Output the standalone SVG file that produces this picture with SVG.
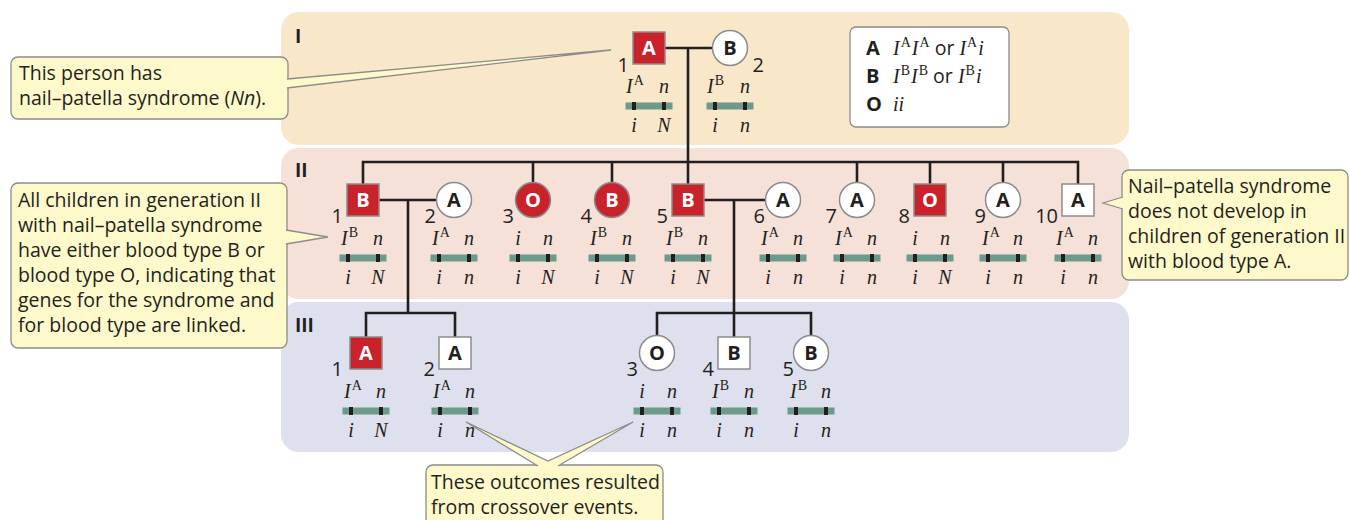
<svg xmlns="http://www.w3.org/2000/svg" width="1350" height="520" viewBox="0 0 1350 520">
<style>
.p1{fill:#f9e7ca}.p2{fill:#f6e1d9}.p3{fill:#dfe0ed}
.gen{font:bold 19px "Open Sans",sans-serif;fill:#231f20}
.ln{stroke:#231f20;stroke-width:2.6;fill:none}
.r{fill:#c9222a;stroke:#8c8c8c;stroke-width:1.5}
.w{fill:#fff;stroke:#8c8c8c;stroke-width:1.5}
.lw{font:bold 20px "Open Sans",sans-serif;fill:#fff;text-anchor:middle}
.lk{font:bold 20px "Open Sans",sans-serif;fill:#231f20;text-anchor:middle}
.num{font:20px "Open Sans",sans-serif;fill:#231f20;text-anchor:end}
.al{font:italic 20px "Liberation Serif",serif;fill:#231f20}
.m{text-anchor:middle}
.sup{font-style:normal;font-size:14px}
.bar{fill:#6c9a8b}.mk{fill:#231f20}
.co{fill:#fdf9cb;stroke:#8c8c8c;stroke-width:1.3}
.ct{font:19.5px "Open Sans",sans-serif;fill:#231f20}
.lg{fill:#fff;stroke:#8c8c8c;stroke-width:1.3}
.lb{font:bold 20px "Open Sans",sans-serif;fill:#231f20}
.it{font-family:"Liberation Serif",serif;font-style:italic;font-size:20px}
.sn{font-family:"Open Sans",sans-serif;font-style:normal;font-size:19.5px}
.ss{font-family:"Liberation Serif",serif;font-style:normal;font-size:14px}
</style>
<g id="panels">
<rect class="p1" x="281" y="12" width="848" height="133" rx="18"/>
<rect class="p2" x="281" y="148" width="848" height="151" rx="18"/>
<rect class="p3" x="281" y="302" width="848" height="150" rx="18"/>
<text class="gen" x="295" y="43">I</text>
<text class="gen" x="295" y="177">II</text>
<text class="gen" x="295" y="332">III</text>
</g>
<g id="connectors">
<path class="ln" d="M665,48 H712.5"/>
<path class="ln" d="M688,48 V184"/>
<path class="ln" d="M363,184 V162 H1078 V184"/>
<path class="ln" d="M533,162 V182.5 M612,162 V182.5 M857,162 V182.5 M930,162 V184 M1003,162 V182.5"/>
<path class="ln" d="M379,200 H436.5 M408,200 V313"/>
<path class="ln" d="M704,200 H765.5 M734,200 V337"/>
<path class="ln" d="M366,337 V313 H455 V337"/>
<path class="ln" d="M657,335.5 V313 H811 V335.5"/>
</g>
<g id="legend">
<rect class="lg" x="850" y="27" width="159" height="100" rx="6"/>
<text class="lb" x="866" y="55">A</text>
<text x="893" y="55" fill="#231f20"><tspan class="it">I</tspan><tspan class="ss" dx="1" dy="-8">A</tspan><tspan class="it" dx="1" dy="8">I</tspan><tspan class="ss" dx="1" dy="-8">A</tspan><tspan class="sn" dy="8"> or </tspan><tspan class="it">I</tspan><tspan class="ss" dx="1" dy="-8">A</tspan><tspan class="it" dx="1" dy="8">i</tspan></text>
<text class="lb" x="866" y="83">B</text>
<text x="893" y="83" fill="#231f20"><tspan class="it">I</tspan><tspan class="ss" dx="1" dy="-8">B</tspan><tspan class="it" dx="1" dy="8">I</tspan><tspan class="ss" dx="1" dy="-8">B</tspan><tspan class="sn" dy="8"> or </tspan><tspan class="it">I</tspan><tspan class="ss" dx="1" dy="-8">B</tspan><tspan class="it" dx="1" dy="8">i</tspan></text>
<text class="lb" x="866" y="111">O</text>
<text x="893" y="111" fill="#231f20"><tspan class="it">ii</tspan></text>
</g>
<!-- Generation I -->
<g id="I-1">
<rect class="r" x="633" y="32" width="32" height="32"/><text class="lw" x="649" y="55">A</text>
<text class="num" x="629" y="72">1</text>
<text class="al" x="626" y="93">I<tspan class="sup" dx="1" dy="-8">A</tspan></text><text class="al m" x="664" y="93">n</text>
<rect class="bar" x="625.5" y="102.5" width="47" height="7"/><rect class="mk" x="632" y="102" width="4" height="8"/><rect class="mk" x="662" y="102" width="4" height="8"/>
<text class="al m" x="634" y="132">i</text><text class="al m" x="664" y="132">N</text>
</g>
<g id="I-2">
<circle class="w" cx="730" cy="48" r="17.5"/><text class="lk" x="730" y="55">B</text>
<text class="num" x="764" y="72">2</text>
<text class="al" x="707" y="93">I<tspan class="sup" dx="1" dy="-8">B</tspan></text><text class="al m" x="745" y="93">n</text>
<rect class="bar" x="706.5" y="102.5" width="47" height="7"/><rect class="mk" x="713" y="102" width="4" height="8"/><rect class="mk" x="743" y="102" width="4" height="8"/>
<text class="al m" x="715" y="132">i</text><text class="al m" x="745" y="132">n</text>
</g>
<!-- Generation II -->
<g id="II-1">
<rect class="r" x="347" y="184" width="32" height="32"/><text class="lw" x="363" y="207">B</text>
<text class="num" x="343" y="223">1</text>
<text class="al" x="341" y="245">I<tspan class="sup" dx="1" dy="-8">B</tspan></text><text class="al m" x="378" y="245">n</text>
<rect class="bar" x="339.5" y="254.5" width="47" height="7"/><rect class="mk" x="346" y="254" width="4" height="8"/><rect class="mk" x="376" y="254" width="4" height="8"/>
<text class="al m" x="348" y="284">i</text><text class="al m" x="378" y="284">N</text>
</g>
<g id="II-2">
<circle class="w" cx="454" cy="200" r="17.5"/><text class="lk" x="454" y="207">A</text>
<text class="num" x="436" y="223">2</text>
<text class="al" x="432" y="245">I<tspan class="sup" dx="1" dy="-8">A</tspan></text><text class="al m" x="469" y="245">n</text>
<rect class="bar" x="430.5" y="254.5" width="47" height="7"/><rect class="mk" x="437" y="254" width="4" height="8"/><rect class="mk" x="467" y="254" width="4" height="8"/>
<text class="al m" x="439" y="284">i</text><text class="al m" x="469" y="284">n</text>
</g>
<g id="II-3">
<circle class="r" cx="533" cy="200" r="17.5"/><text class="lw" x="533" y="207">O</text>
<text class="num" x="514" y="223">3</text>
<text class="al m" x="518" y="245">i</text><text class="al m" x="548" y="245">n</text>
<rect class="bar" x="509.5" y="254.5" width="47" height="7"/><rect class="mk" x="516" y="254" width="4" height="8"/><rect class="mk" x="546" y="254" width="4" height="8"/>
<text class="al m" x="518" y="284">i</text><text class="al m" x="548" y="284">N</text>
</g>
<g id="II-4">
<circle class="r" cx="612" cy="200" r="17.5"/><text class="lw" x="612" y="207">B</text>
<text class="num" x="592" y="223">4</text>
<text class="al" x="590" y="245">I<tspan class="sup" dx="1" dy="-8">B</tspan></text><text class="al m" x="627" y="245">n</text>
<rect class="bar" x="588.5" y="254.5" width="47" height="7"/><rect class="mk" x="595" y="254" width="4" height="8"/><rect class="mk" x="625" y="254" width="4" height="8"/>
<text class="al m" x="597" y="284">i</text><text class="al m" x="627" y="284">N</text>
</g>
<g id="II-5">
<rect class="r" x="672" y="184" width="32" height="32"/><text class="lw" x="688" y="207">B</text>
<text class="num" x="668" y="223">5</text>
<text class="al" x="666" y="245">I<tspan class="sup" dx="1" dy="-8">B</tspan></text><text class="al m" x="703" y="245">n</text>
<rect class="bar" x="664.5" y="254.5" width="47" height="7"/><rect class="mk" x="671" y="254" width="4" height="8"/><rect class="mk" x="701" y="254" width="4" height="8"/>
<text class="al m" x="673" y="284">i</text><text class="al m" x="703" y="284">N</text>
</g>
<g id="II-6">
<circle class="w" cx="783" cy="200" r="17.5"/><text class="lk" x="783" y="207">A</text>
<text class="num" x="765" y="223">6</text>
<text class="al" x="761" y="245">I<tspan class="sup" dx="1" dy="-8">A</tspan></text><text class="al m" x="798" y="245">n</text>
<rect class="bar" x="759.5" y="254.5" width="47" height="7"/><rect class="mk" x="766" y="254" width="4" height="8"/><rect class="mk" x="796" y="254" width="4" height="8"/>
<text class="al m" x="768" y="284">i</text><text class="al m" x="798" y="284">n</text>
</g>
<g id="II-7">
<circle class="w" cx="857" cy="200" r="17.5"/><text class="lk" x="857" y="207">A</text>
<text class="num" x="837" y="223">7</text>
<text class="al" x="835" y="245">I<tspan class="sup" dx="1" dy="-8">A</tspan></text><text class="al m" x="872" y="245">n</text>
<rect class="bar" x="833.5" y="254.5" width="47" height="7"/><rect class="mk" x="840" y="254" width="4" height="8"/><rect class="mk" x="870" y="254" width="4" height="8"/>
<text class="al m" x="842" y="284">i</text><text class="al m" x="872" y="284">n</text>
</g>
<g id="II-8">
<rect class="r" x="914" y="184" width="32" height="32"/><text class="lw" x="930" y="207">O</text>
<text class="num" x="910" y="223">8</text>
<text class="al m" x="915" y="245">i</text><text class="al m" x="945" y="245">n</text>
<rect class="bar" x="906.5" y="254.5" width="47" height="7"/><rect class="mk" x="913" y="254" width="4" height="8"/><rect class="mk" x="943" y="254" width="4" height="8"/>
<text class="al m" x="915" y="284">i</text><text class="al m" x="945" y="284">N</text>
</g>
<g id="II-9">
<circle class="w" cx="1003" cy="200" r="17.5"/><text class="lk" x="1003" y="207">A</text>
<text class="num" x="986" y="223">9</text>
<text class="al" x="982" y="245">I<tspan class="sup" dx="1" dy="-8">A</tspan></text><text class="al m" x="1018" y="245">n</text>
<rect class="bar" x="979.5" y="254.5" width="47" height="7"/><rect class="mk" x="986" y="254" width="4" height="8"/><rect class="mk" x="1016" y="254" width="4" height="8"/>
<text class="al m" x="988" y="284">i</text><text class="al m" x="1018" y="284">n</text>
</g>
<g id="II-10">
<rect class="w" x="1062" y="184" width="32" height="32"/><text class="lk" x="1078" y="207">A</text>
<text class="num" x="1058" y="223">10</text>
<text class="al" x="1056" y="245">I<tspan class="sup" dx="1" dy="-8">A</tspan></text><text class="al m" x="1093" y="245">n</text>
<rect class="bar" x="1054.5" y="254.5" width="47" height="7"/><rect class="mk" x="1061" y="254" width="4" height="8"/><rect class="mk" x="1091" y="254" width="4" height="8"/>
<text class="al m" x="1063" y="284">i</text><text class="al m" x="1093" y="284">n</text>
</g>
<!-- Generation III -->
<g id="III-1">
<rect class="r" x="350" y="337" width="32" height="32"/><text class="lw" x="366" y="360">A</text>
<text class="num" x="343" y="376">1</text>
<text class="al" x="344" y="398">I<tspan class="sup" dx="1" dy="-8">A</tspan></text><text class="al m" x="381" y="398">n</text>
<rect class="bar" x="342.5" y="407.5" width="47" height="7"/><rect class="mk" x="349" y="407" width="4" height="8"/><rect class="mk" x="379" y="407" width="4" height="8"/>
<text class="al m" x="351" y="437">i</text><text class="al m" x="381" y="437">N</text>
</g>
<g id="III-2">
<rect class="w" x="439" y="337" width="32" height="32"/><text class="lk" x="455" y="360">A</text>
<text class="num" x="435" y="376">2</text>
<text class="al" x="433" y="398">I<tspan class="sup" dx="1" dy="-8">A</tspan></text><text class="al m" x="470" y="398">n</text>
<rect class="bar" x="431.5" y="407.5" width="47" height="7"/><rect class="mk" x="438" y="407" width="4" height="8"/><rect class="mk" x="468" y="407" width="4" height="8"/>
<text class="al m" x="440" y="437">i</text><text class="al m" x="470" y="437">n</text>
</g>
<g id="III-3">
<circle class="w" cx="657" cy="353" r="17.5"/><text class="lk" x="657" y="360">O</text>
<text class="num" x="638" y="376">3</text>
<text class="al m" x="642" y="398">i</text><text class="al m" x="672" y="398">n</text>
<rect class="bar" x="633.5" y="407.5" width="47" height="7"/><rect class="mk" x="640" y="407" width="4" height="8"/><rect class="mk" x="670" y="407" width="4" height="8"/>
<text class="al m" x="642" y="437">i</text><text class="al m" x="672" y="437">n</text>
</g>
<g id="III-4">
<rect class="w" x="718" y="337" width="32" height="32"/><text class="lk" x="734" y="360">B</text>
<text class="num" x="714" y="376">4</text>
<text class="al" x="712" y="398">I<tspan class="sup" dx="1" dy="-8">B</tspan></text><text class="al m" x="749" y="398">n</text>
<rect class="bar" x="710.5" y="407.5" width="47" height="7"/><rect class="mk" x="717" y="407" width="4" height="8"/><rect class="mk" x="747" y="407" width="4" height="8"/>
<text class="al m" x="719" y="437">i</text><text class="al m" x="749" y="437">n</text>
</g>
<g id="III-5">
<circle class="w" cx="811" cy="353" r="17.5"/><text class="lk" x="811" y="360">B</text>
<text class="num" x="794" y="376">5</text>
<text class="al" x="790" y="398">I<tspan class="sup" dx="1" dy="-8">B</tspan></text><text class="al m" x="826" y="398">n</text>
<rect class="bar" x="787.5" y="407.5" width="47" height="7"/><rect class="mk" x="794" y="407" width="4" height="8"/><rect class="mk" x="824" y="407" width="4" height="8"/>
<text class="al m" x="796" y="437">i</text><text class="al m" x="826" y="437">n</text>
</g>
<!-- Callouts -->
<g id="callout-top">
<rect class="co" x="11" y="57" width="277" height="62" rx="7"/>
<path class="co" d="M287,79 L611,50 L287,88"/>
<text class="ct" x="19" y="80">This person has</text>
<text class="ct" x="19" y="105">nail–patella syndrome (<tspan font-style="italic">Nn</tspan>).</text>
</g>
<g id="callout-left">
<rect class="co" x="11" y="183" width="276" height="165" rx="7"/>
<path class="co" d="M286,230 L328,237 L286,244"/>
<text class="ct" x="18" y="207">All children in generation II</text>
<text class="ct" x="18" y="232">with nail–patella syndrome</text>
<text class="ct" x="18" y="257">have either blood type B or</text>
<text class="ct" x="18" y="282">blood type O, indicating that</text>
<text class="ct" x="18" y="307">genes for the syndrome and</text>
<text class="ct" x="18" y="332">for blood type are linked.</text>
</g>
<g id="callout-right">
<rect class="co" x="1122" y="170" width="226" height="110" rx="7"/>
<path class="co" d="M1123,197 L1103,203 L1123,209"/>
<text class="ct" x="1128" y="193" font-size="19px">Nail–patella syndrome</text>
<text class="ct" x="1128" y="218" font-size="19px">does not develop in</text>
<text class="ct" x="1128" y="243" font-size="19px">children of generation II</text>
<text class="ct" x="1128" y="268" font-size="19px">with blood type A.</text>
</g>
<g id="callout-bottom">
<rect class="co" x="426" y="465" width="237" height="70" rx="7"/>
<path class="co" d="M538,466 L466,422 L548,461 L633,422 L558,466"/>
<text class="ct" x="431" y="489">These outcomes resulted</text>
<text class="ct" x="431" y="514">from crossover events.</text>
</g>
</svg>
